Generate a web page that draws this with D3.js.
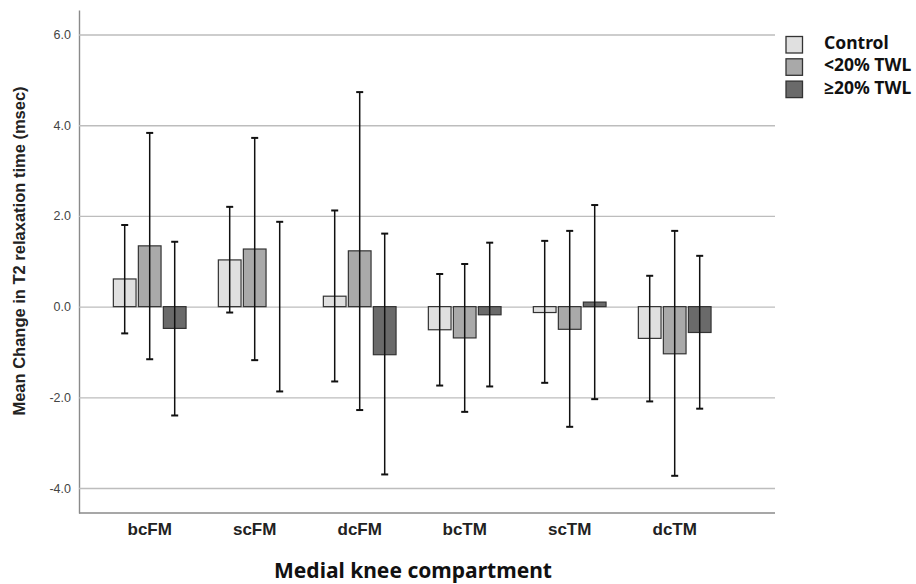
<!DOCTYPE html>
<html>
<head>
<meta charset="utf-8">
<script src="https://cdn.jsdelivr.net/npm/d3@7"></script>
<style>
  body { margin: 0; background: #fff; }
  #chart { width: 916px; height: 584px; }
</style>
</head>
<body>
<div id="chart"></div>
<script>
// data
const categories = ["bcFM", "scFM", "dcFM", "bcTM", "scTM", "dcTM"];
const groups = ["Control", "<20% TWL", "≥20% TWL"];
const yTicks = [-4, -2, 0, 2, 4, 6];

const controlMean = [0.61, 1.03, 0.23, -0.51, -0.13, -0.70];
const controlLow = [-0.59, -0.13, -1.65, -1.74, -1.68, -2.09];
const controlHigh = [1.80, 2.20, 2.12, 0.72, 1.45, 0.68];

const under20Mean = [1.34, 1.27, 1.23, -0.69, -0.50, -1.04];
const under20Low = [-1.16, -1.18, -2.28, -2.32, -2.65, -3.73];
const under20High = [3.83, 3.72, 4.73, 0.94, 1.67, 1.67];

const over20Mean = [-0.48, 0.00, -1.06, -0.18, 0.10, -0.57];
const over20Low = [-2.40, -1.87, -3.70, -1.76, -2.04, -2.25];
const over20High = [1.43, 1.87, 1.61, 1.41, 2.24, 1.12];

const colors = ["#e0e0e0", "#a9a9a9", "#6a6a6a"];

const series = [
  { name: groups[0], mean: controlMean, low: controlLow, high: controlHigh },
  { name: groups[1], mean: under20Mean, low: under20Low, high: under20High },
  { name: groups[2], mean: over20Mean, low: over20Low, high: over20High },
];

const rows = [];
series.forEach((s, si) => {
  categories.forEach((c, ci) => {
    rows.push({ cat: c, group: s.name, gi: si, mean: s.mean[ci], low: s.low[ci], high: s.high[ci] });
  });
});

////////////////////////////  svg  ////////////////////////////
const width = 916, height = 584;
const plot = { left: 79, right: 775, top: 10, bottom: 513 };
const arial = "Liberation Sans, Arial, sans-serif";
const calibri = "Noto Sans, Open Sans, sans-serif";

const svg = d3.select("#chart").append("svg")
  .attr("width", width).attr("height", height);

// scales
const xScale = d3.scaleBand().domain(categories).range([97.2, 727.2]);
const x1 = d3.scaleBand().domain(groups).range([-36.35, 36.35]).paddingInner(0.092);
const yScale = d3.scaleLinear().domain([-4.55, 6.54]).range([plot.bottom, plot.top]);

// y axis with gridlines
const yAxis = d3.axisLeft(yScale)
  .tickValues(yTicks)
  .tickFormat((d) => d.toFixed(1))
  .tickSize(-(plot.right - plot.left))
  .tickSizeOuter(0)
  .tickPadding(8);

const gy = svg.append("g")
  .attr("transform", `translate(${plot.left},0)`)
  .call(yAxis)
  .attr("font-family", arial)
  .attr("font-size", 12.5);
gy.selectAll(".tick text").attr("fill", "#444");
gy.selectAll(".tick line").attr("stroke", "#bdbdbd").attr("stroke-width", 1.4);
gy.select(".domain").attr("stroke", "#8a8a8a").attr("stroke-width", 1.4);

// x axis
const xAxis = d3.axisBottom(xScale).tickSize(0).tickPadding(10);
const gx = svg.append("g")
  .attr("transform", `translate(0,${plot.bottom})`)
  .call(xAxis)
  .attr("font-family", arial)
  .attr("font-size", 17)
  .attr("font-weight", "bold");
gx.selectAll(".tick text").attr("fill", "#222");
gx.select(".domain").remove();

svg.append("line")
  .attr("x1", plot.left).attr("x2", plot.right)
  .attr("y1", plot.bottom).attr("y2", plot.bottom)
  .attr("stroke", "#8a8a8a").attr("stroke-width", 1.4);

// bars
const bx = (d) => xScale(d.cat) + xScale.bandwidth() / 2 + x1(d.group);

svg.append("g")
  .selectAll("rect")
  .data(rows)
  .join("rect")
  .attr("x", (d) => bx(d))
  .attr("width", x1.bandwidth())
  .attr("y", (d) => yScale(Math.max(0, d.mean)))
  .attr("height", (d) => Math.abs(yScale(d.mean) - yScale(0)))
  .attr("fill", (d) => colors[d.gi])
  .attr("stroke", "#333")
  .attr("stroke-width", 1.2);

// error bars
const cx = (d) => bx(d) + x1.bandwidth() / 2;
const capW = 3.5;
const err = svg.append("g").attr("stroke", "#111").attr("stroke-width", 1.5);

err.selectAll(".stem")
  .data(rows)
  .join("line")
  .attr("class", "stem")
  .attr("x1", cx).attr("x2", cx)
  .attr("y1", (d) => yScale(d.low))
  .attr("y2", (d) => yScale(d.high));

["low", "high"].forEach((k) => {
  err.selectAll(".cap-" + k)
    .data(rows)
    .join("line")
    .attr("class", "cap-" + k)
    .attr("stroke-width", 2)
    .attr("x1", (d) => cx(d) - capW)
    .attr("x2", (d) => cx(d) + capW)
    .attr("y1", (d) => yScale(d[k]))
    .attr("y2", (d) => yScale(d[k]));
});

// titles
svg.append("text")
  .attr("transform", "translate(25,251) rotate(-90)")
  .attr("text-anchor", "middle")
  .attr("font-family", arial)
  .attr("font-size", 16.5)
  .attr("font-weight", "bold")
  .attr("fill", "#222")
  .text("Mean Change in T2 relaxation time (msec)");

svg.append("text")
  .attr("x", 413)
  .attr("y", 578)
  .attr("text-anchor", "middle")
  .attr("font-family", calibri)
  .attr("font-size", 21)
  .attr("font-weight", "bold")
  .attr("fill", "#111")
  .text("Medial knee compartment");

// legend
const legend = svg.append("g").attr("transform", "translate(786,36.5)");
const li = legend.selectAll("g")
  .data(groups)
  .join("g")
  .attr("transform", (d, i) => `translate(0,${i * 22.3})`);

li.append("rect")
  .attr("width", 16.5).attr("height", 16.5)
  .attr("fill", (d, i) => colors[i])
  .attr("stroke", "#333")
  .attr("stroke-width", 1.3);

li.append("text")
  .attr("x", 38)
  .attr("y", 12.5)
  .attr("font-family", calibri)
  .attr("font-size", 17.5)
  .attr("font-weight", "bold")
  .attr("fill", "#111")
  .text((d) => d);
</script>
</body>
</html>
